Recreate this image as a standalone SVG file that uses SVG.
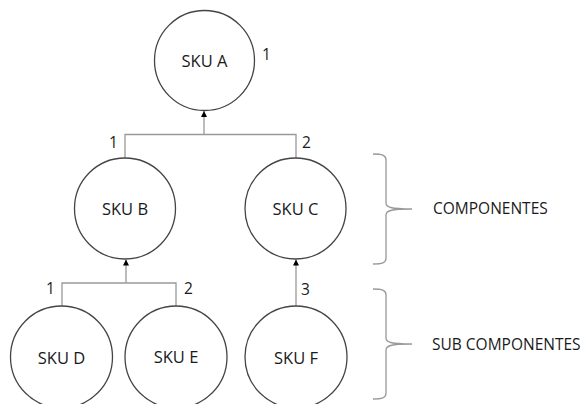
<svg xmlns="http://www.w3.org/2000/svg" width="585" height="404" viewBox="0 0 585 404">
<style>
.node{fill:#fff;stroke:#444;stroke-width:1.3}
.lbl{font-family:"Open Sans","Liberation Sans",sans-serif;font-size:16.5px;fill:#1a1a1a;text-anchor:middle}
.num{font-family:"Open Sans","Liberation Sans",sans-serif;font-size:15.5px;fill:#1a1a1a}
.con{fill:none;stroke:#999;stroke-width:1.3}
.brace{fill:none;stroke:#999;stroke-width:1.3}
</style>
<defs>
<marker id="arr" viewBox="0 0 6 6" refX="6" refY="3" markerWidth="6" markerHeight="6" markerUnits="userSpaceOnUse" orient="auto">
<path d="M0,0 L6,3 L0,6 Z" fill="#000"/>
</marker>
</defs>
<rect width="585" height="404" fill="#fff"/>
<g id="connectors">
<path class="con" d="M125,158 V134.5 H296 V158"/>
<path class="con" d="M204,134.5 V111" marker-end="url(#arr)"/>
<path class="con" d="M62,306 V283 H176 V306"/>
<path class="con" d="M126,283 V259.5" marker-end="url(#arr)"/>
<path class="con" d="M296,306 V259.5" marker-end="url(#arr)"/>
</g>
<g id="skuA"><circle class="node" cx="204.5" cy="60.5" r="50"/><text class="lbl" x="204.5" y="67">SKU A</text></g>
<g id="skuB"><circle class="node" cx="125" cy="208.5" r="50.5"/><text class="lbl" x="125" y="214.5">SKU B</text></g>
<g id="skuC"><circle class="node" cx="295.5" cy="208.5" r="50.5"/><text class="lbl" x="295.5" y="214.5">SKU C</text></g>
<g id="skuD"><circle class="node" cx="61.5" cy="357" r="51"/><text class="lbl" x="61.5" y="364">SKU D</text></g>
<g id="skuE"><circle class="node" cx="176" cy="357" r="51"/><text class="lbl" x="176" y="363">SKU E</text></g>
<g id="skuF"><circle class="node" cx="296" cy="357" r="51"/><text class="lbl" x="296" y="364">SKU F</text></g>
<g id="numbers">
<text class="num" x="262" y="60">1</text>
<text class="num" x="109" y="148">1</text>
<text class="num" x="302" y="148">2</text>
<text class="num" x="46" y="294">1</text>
<text class="num" x="184" y="294">2</text>
<text class="num" x="301" y="295">3</text>
</g>
<g id="components">
<path class="brace" d="M373,154 C382,154 386,155 386,160 L386,203 C386,207 390,209 412,209 C390,209 386,211 386,215 L386,258 C386,263 382,264 373,264"/>
<text class="num" x="433" y="213.5">COMPONENTES</text>
</g>
<g id="subcomponents">
<path class="brace" d="M373,289 C382,289 386,290 386,295 L386,338 C386,342 390,344 412,344 C390,344 386,346 386,350 L386,393 C386,398 382,399 373,399"/>
<text class="num" x="432" y="349.5">SUB COMPONENTES</text>
</g>
</svg>
